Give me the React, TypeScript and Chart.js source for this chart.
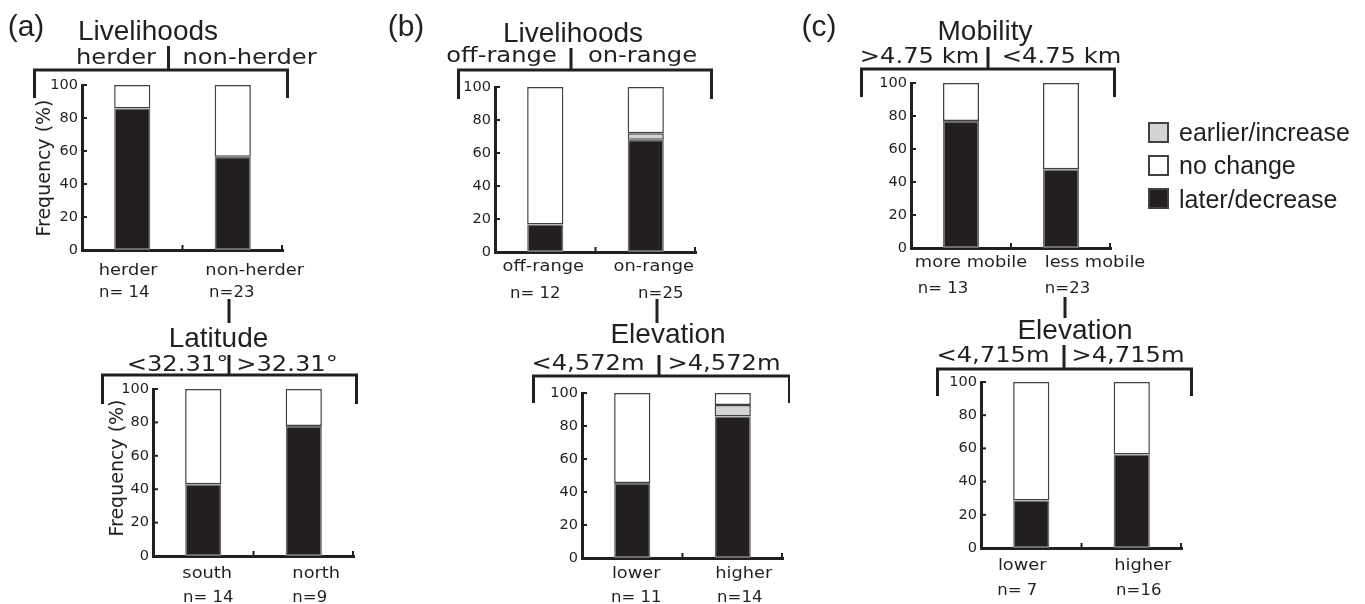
import React, { useEffect, useRef } from "react";
import { Chart, registerables } from "chart.js";

Chart.register(...registerables);

// ---------- shared ----------
const yTickValues = [0, 20, 40, 60, 80, 100];
const seriesLabels = ["later/decrease", "earlier/increase", "no change"];
const seriesColors = ["#231f20", "#d1d3d4", "#ffffff"];
const seriesBorders = ["#6d6e71", "#414042", "#414042"];
const legendOrder = [1, 2, 0];
const panelLetters = ["(a)", "(b)", "(c)"];
const yAxisTitle = "Frequency (%)";

// ---------- (a) Livelihoods ----------
const aTopTitle = "Livelihoods";
const aTopGroups = ["herder", "non-herder"];
const aTopCats = ["herder", "non-herder"];
const aTopN = ["n= 14", "n=23"];
const aTopLater = [85.7, 56.5];
const aTopEarlier = [0, 0];
const aTopNoChange = [14.3, 43.5];

// ---------- (a) Latitude ----------
const aBotTitle = "Latitude";
const aBotGroups = ["<32.31°", ">32.31°"];
const aBotCats = ["south", "north"];
const aBotN = ["n= 14", "n=9"];
const aBotLater = [42.9, 77.8];
const aBotEarlier = [0, 0];
const aBotNoChange = [57.1, 22.2];

// ---------- (b) Livelihoods ----------
const bTopTitle = "Livelihoods";
const bTopGroups = ["off-range", "on-range"];
const bTopCats = ["off-range", "on-range"];
const bTopN = ["n= 12", "n=25"];
const bTopLater = [16.7, 68];
const bTopEarlier = [0, 4];
const bTopNoChange = [83.3, 28];

// ---------- (b) Elevation ----------
const bBotTitle = "Elevation";
const bBotGroups = ["<4,572m", ">4,572m"];
const bBotCats = ["lower", "higher"];
const bBotN = ["n= 11", "n=14"];
const bBotLater = [45.5, 85.7];
const bBotEarlier = [0, 7.1];
const bBotNoChange = [54.5, 7.2];

// ---------- (c) Mobility ----------
const cTopTitle = "Mobility";
const cTopGroups = [">4.75 km", "<4.75 km"];
const cTopCats = ["more mobile", "less mobile"];
const cTopN = ["n= 13", "n=23"];
const cTopLater = [76.9, 47.8];
const cTopEarlier = [0, 0];
const cTopNoChange = [23.1, 52.2];

// ---------- (c) Elevation ----------
const cBotTitle = "Elevation";
const cBotGroups = ["<4,715m", ">4,715m"];
const cBotCats = ["lower", "higher"];
const cBotN = ["n= 7", "n=16"];
const cBotLater = [28.6, 56.3];
const cBotEarlier = [0, 0];
const cBotNoChange = [71.4, 43.7];

// ---------- styles ----------
const INK = "#231f20";
const FONT_TITLE = '28px "Liberation Sans", Arial, sans-serif';
const FONT_LETTER = '30px "Liberation Sans", Arial, sans-serif';
const FONT_SUB = '22px "DejaVu Sans", sans-serif';
const SUB_STRETCH = 1.1;
const FONT_CAT = '16.5px "DejaVu Sans", sans-serif';
const CAT_STRETCH = 1.08;
const FONT_N = '16.5px "DejaVu Sans", sans-serif';
const FONT_YTITLE = '19px "DejaVu Sans", sans-serif';
const FONT_LEGEND = '25px "Liberation Sans", Arial, sans-serif';
const Y_AXIS_W = 40;
const X_AXIS_H = 2;

// ---------- layouts (page pixel coordinates) ----------
const layoutATop = {
  canvas: [0, 0, 380, 304],
  axis: { x0: 82, x1: 283, yT: 85, yB: 250 },
  letter: { idx: 0, x: 26, y: 36 },
  title: [148, 40],
  groupX: [116, 249.5],
  groupY: 64,
  sep: [168.5, 46, 70],
  bracket: [33, 289, 70, 98],
  catDx: [-4, 22], catDy: 25, nDx: [-8, -1], nDy: 47,
  yTitle: [45.5, 168],
};
const layoutABot = {
  canvas: [0, 294, 380, 310],
  axis: { x0: 153, x1: 354, yT: 389, yB: 556 },
  title: [218.5, 347],
  groupX: [177.5, 287],
  groupY: 371,
  sep: [229, 355, 375],
  bracket: [101, 358, 375, 404],
  connector: [229, 299, 323],
  catDx: [4, 12.5], catDy: 22, nDx: [5, 6], nDy: 46,
  yTitle: [118, 468],
};
const layoutBTop = {
  canvas: [380, 0, 410, 304],
  axis: { x0: 495, x1: 696, yT: 87, yB: 252 },
  letter: { idx: 1, x: 406, y: 36 },
  title: [573, 42],
  groupX: [501.5, 642.5],
  groupY: 62,
  sep: [571, 48, 70],
  bracket: [457, 713, 70, 99],
  catDx: [-2, 8], catDy: 19, nDx: [-10, 15], nDy: 46,
};
const layoutBBot = {
  canvas: [380, 294, 410, 310],
  axis: { x0: 582, x1: 783, yT: 393, yB: 558 },
  title: [668, 343],
  groupX: [588, 724],
  groupY: 370,
  sep: [659, 355, 376],
  bracket: [532, 791, 376, 403],
  connector: [657, 299, 323],
  catDx: [4, 11], catDy: 20, nDx: [4, 7], nDy: 44,
};
const layoutCTop = {
  canvas: [790, 0, 575, 304],
  axis: { x0: 911, x1: 1111, yT: 83, yB: 248 },
  letter: { idx: 2, x: 819, y: 36 },
  title: [985, 40],
  groupX: [919.5, 1061.5],
  groupY: 63,
  sep: [988, 47, 69],
  bracket: [860, 1116, 69, 97],
  catDx: [10, 34], catDy: 19, nDx: [-18, 6.5], nDy: 45,
  legend: { x: 1148, w: 21, h: 21, ys: [122, 155, 188], textX: 1179, baselines: [141, 174, 208] },
};
const layoutCBot = {
  canvas: [790, 294, 575, 310],
  axis: { x0: 981, x1: 1182, yT: 382, yB: 548 },
  title: [1075, 339],
  groupX: [993, 1128],
  groupY: 362,
  sep: [1064, 345, 369],
  bracket: [936, 1193, 369, 396],
  connector: [1065, 297, 318],
  catDx: [-9, 11], catDy: 22, nDx: [-14, 7], nDy: 47,
};

const panels = [
  { title: aTopTitle, groups: aTopGroups, cats: aTopCats, ns: aTopN, series: [aTopLater, aTopEarlier, aTopNoChange], layout: layoutATop },
  { title: aBotTitle, groups: aBotGroups, cats: aBotCats, ns: aBotN, series: [aBotLater, aBotEarlier, aBotNoChange], layout: layoutABot },
  { title: bTopTitle, groups: bTopGroups, cats: bTopCats, ns: bTopN, series: [bTopLater, bTopEarlier, bTopNoChange], layout: layoutBTop },
  { title: bBotTitle, groups: bBotGroups, cats: bBotCats, ns: bBotN, series: [bBotLater, bBotEarlier, bBotNoChange], layout: layoutBBot },
  { title: cTopTitle, groups: cTopGroups, cats: cTopCats, ns: cTopN, series: [cTopLater, cTopEarlier, cTopNoChange], layout: layoutCTop },
  { title: cBotTitle, groups: cBotGroups, cats: cBotCats, ns: cBotN, series: [cBotLater, cBotEarlier, cBotNoChange], layout: layoutCBot },
];

function stretchedText(ctx: CanvasRenderingContext2D, text: string, x: number, y: number, sx: number) {
  ctx.save();
  ctx.translate(x, y);
  ctx.scale(sx, 1);
  ctx.textAlign = "center";
  ctx.fillText(text, 0, 0);
  ctx.restore();
}

function Panel({ panel }: { panel: any }) {
  const ref = useRef<HTMLCanvasElement | null>(null);
  const L = panel.layout;
  const [cl, ct, cw, ch] = L.canvas;

  useEffect(() => {
    if (!ref.current) return;
    const X = (v: number) => v - cl;
    const Y = (v: number) => v - ct;

    const decor = {
      id: "decor",
      afterDraw(chart: any) {
        const ctx = chart.ctx;
        const xs = chart.scales.x;
        const ys = chart.scales.y;
        const ca = chart.chartArea;
        ctx.save();
        ctx.strokeStyle = INK;
        ctx.fillStyle = INK;
        ctx.lineCap = "butt";
        ctx.lineJoin = "miter";

        // inward tick marks on y axis
        ctx.lineWidth = 2;
        yTickValues.forEach((v) => {
          const py = ys.getPixelForValue(v);
          ctx.beginPath();
          ctx.moveTo(ca.left, py);
          ctx.lineTo(ca.left + 5, py);
          ctx.stroke();
        });
        // tick marks at category boundaries on x axis
        const p0 = xs.getPixelForValue(0);
        const p1 = xs.getPixelForValue(1);
        [(p0 + p1) / 2, ca.right - 1].forEach((px) => {
          ctx.beginPath();
          ctx.moveTo(px, ca.bottom);
          ctx.lineTo(px, ca.bottom - 5);
          ctx.stroke();
        });

        // bracket
        ctx.lineWidth = 3;
        const [bl, br, by, bb] = L.bracket;
        ctx.beginPath();
        ctx.moveTo(X(bl) + 1.5, Y(bb));
        ctx.lineTo(X(bl) + 1.5, Y(by));
        ctx.lineTo(X(br) - 1.5, Y(by));
        ctx.lineTo(X(br) - 1.5, Y(bb));
        ctx.stroke();
        // separator
        const [sx, sy1, sy2] = L.sep;
        ctx.beginPath();
        ctx.moveTo(X(sx), Y(sy1));
        ctx.lineTo(X(sx), Y(sy2));
        ctx.stroke();
        // connector from upper panel
        if (L.connector) {
          const [kx, ky1, ky2] = L.connector;
          ctx.beginPath();
          ctx.moveTo(X(kx), Y(ky1));
          ctx.lineTo(X(kx), Y(ky2));
          ctx.stroke();
        }

        ctx.textBaseline = "alphabetic";
        // panel letter
        if (L.letter) {
          ctx.font = FONT_LETTER;
          ctx.textAlign = "center";
          ctx.fillText(panelLetters[L.letter.idx], X(L.letter.x), Y(L.letter.y));
        }
        // title
        ctx.font = FONT_TITLE;
        ctx.textAlign = "center";
        ctx.fillText(panel.title, X(L.title[0]), Y(L.title[1]));
        // group labels
        ctx.font = FONT_SUB;
        panel.groups.forEach((g: string, i: number) => {
          stretchedText(ctx, g, X(L.groupX[i]), Y(L.groupY), SUB_STRETCH);
        });
        // category labels
        panel.cats.forEach((c: string, i: number) => {
          const px = xs.getPixelForValue(i);
          ctx.font = FONT_CAT;
          stretchedText(ctx, c, px + L.catDx[i], ca.bottom + L.catDy, CAT_STRETCH);
          ctx.font = FONT_N;
          ctx.textAlign = "center";
          ctx.fillText(panel.ns[i], px + L.nDx[i], ca.bottom + L.nDy);
        });
        // y axis title
        if (L.yTitle) {
          ctx.save();
          ctx.font = FONT_YTITLE;
          ctx.translate(X(L.yTitle[0]), Y(L.yTitle[1]));
          ctx.rotate(-Math.PI / 2);
          ctx.textAlign = "center";
          ctx.textBaseline = "middle";
          ctx.fillText(yAxisTitle, 0, 0);
          ctx.restore();
        }
        // legend
        if (L.legend) {
          const lg = L.legend;
          legendOrder.forEach((si, k) => {
            ctx.fillStyle = seriesColors[si];
            ctx.fillRect(X(lg.x), Y(lg.ys[k]), lg.w, lg.h);
            ctx.lineWidth = 2;
            ctx.strokeStyle = "#414042";
            ctx.strokeRect(X(lg.x) + 1, Y(lg.ys[k]) + 1, lg.w - 2, lg.h - 2);
            ctx.fillStyle = INK;
            ctx.font = FONT_LEGEND;
            ctx.textAlign = "left";
            ctx.fillText(seriesLabels[si], X(lg.textX), Y(lg.baselines[k]));
          });
        }
        ctx.restore();
      },
    };

    const a = L.axis;
    const chart = new Chart(ref.current, {
      type: "bar",
      data: {
        labels: panel.cats,
        datasets: panel.series.map((vals: number[], si: number) => ({
          label: seriesLabels[si],
          data: vals,
          backgroundColor: seriesColors[si],
          borderColor: seriesBorders[si],
          borderWidth: 1.5,
          borderSkipped: false,
          categoryPercentage: 1,
          barPercentage: 0.36,
        })),
      },
      options: {
        animation: false,
        responsive: false,
        events: [],
        layout: {
          padding: {
            left: a.x0 - cl - Y_AXIS_W,
            top: a.yT - ct,
            right: cl + cw - a.x1,
            bottom: ct + ch - a.yB - X_AXIS_H,
          },
        },
        plugins: { legend: { display: false }, tooltip: { enabled: false } },
        scales: {
          x: {
            stacked: true,
            offset: true,
            grid: { display: false, drawTicks: false },
            border: { display: true, width: 3, color: INK },
            ticks: { display: false },
            afterFit: (s: any) => { s.height = X_AXIS_H; },
          },
          y: {
            stacked: true,
            min: 0,
            max: 100,
            grid: { display: false, drawTicks: false },
            border: { display: true, width: 3, color: INK },
            ticks: {
              stepSize: 20,
              padding: 4,
              color: INK,
              font: { family: '"DejaVu Sans", sans-serif', size: 14.5 },
            },
            afterFit: (s: any) => { s.width = Y_AXIS_W; },
          },
        },
      } as any,
      plugins: [decor],
    });
    return () => chart.destroy();
  }, []);

  return (
    <canvas
      ref={ref}
      width={cw}
      height={ch}
      style={{ position: "absolute", left: cl, top: ct, width: cw, height: ch }}
    />
  );
}

export default function App() {
  return (
    <div style={{ position: "absolute", left: 0, top: 0, width: 1365, height: 604, background: "#ffffff", overflow: "hidden" }}>
      {panels.map((p, i) => (
        <Panel key={i} panel={p} />
      ))}
    </div>
  );
}
